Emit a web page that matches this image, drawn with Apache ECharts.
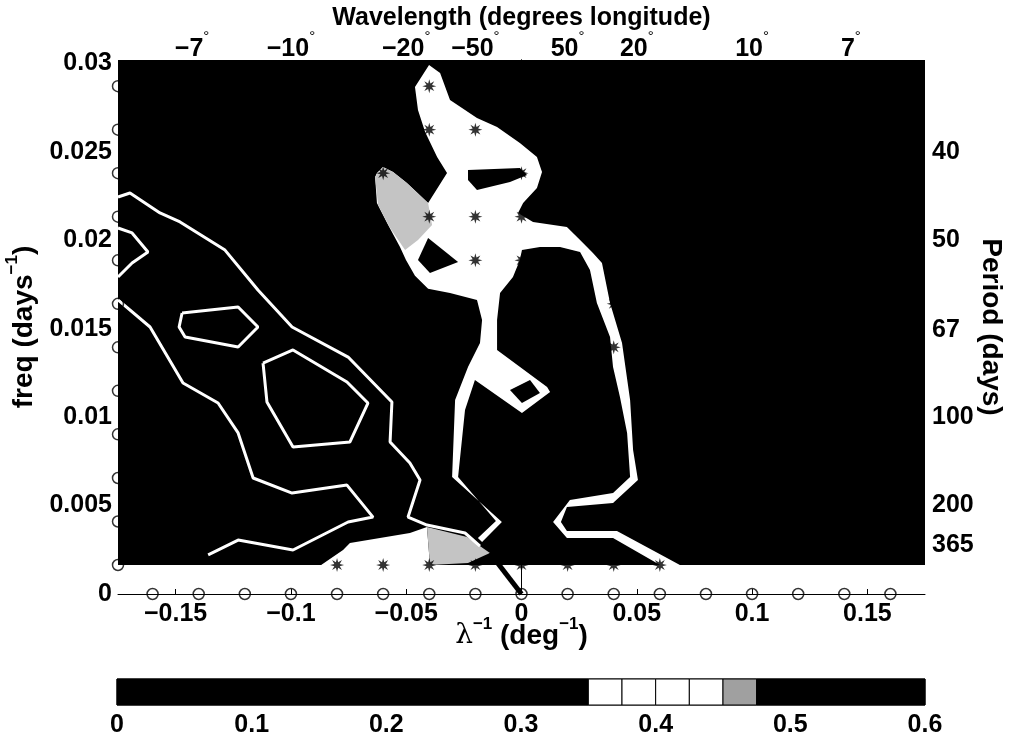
<!DOCTYPE html>
<html><head><meta charset="utf-8">
<script src="https://cdn.jsdelivr.net/npm/echarts@6/dist/echarts.min.js"></script>
<style>html,body{margin:0;padding:0;background:#fff}#c{width:1013px;height:738px}</style>
</head><body><div id="c"></div>
<script>
// ---------------- data ----------------
const xTicks = [-0.15, -0.1, -0.05, 0, 0.05, 0.1, 0.15];
const yTicks = [0, 0.005, 0.01, 0.015, 0.02, 0.025, 0.03];
const wavelengths = [-7, -10, -20, -50, 50, 20, 10, 7];
const periods = [40, 50, 67, 100, 200, 365];
const gridK = [-0.16,-0.14,-0.12,-0.1,-0.08,-0.06,-0.04,-0.02,0,0.02,0.04,0.06,0.08,0.1,0.12,0.14,0.16];
const gridF = [0.00164,0.00410,0.00656,0.00903,0.01149,0.01395,0.01641,0.01887,0.02134,0.02380,0.02626,0.02872];
const kRange = [-0.175, 0.175];
const fMax = 0.0302;

// white region (values 0.35-0.45), [k, f]
const whiteRegions = [
 [
 [-0.0401,0.02992],[-0.0462,0.02867],[-0.0449,0.02737],[-0.0418,0.02613],[-0.0366,0.02471],[-0.0323,0.02381],
 [-0.0405,0.02211],[-0.0497,0.02324],[-0.0557,0.02387],[-0.0601,0.02415],[-0.0627,0.02381],[-0.0635,0.02358],
 [-0.0627,0.02211],[-0.0583,0.02098],[-0.0527,0.01962],[-0.0501,0.01889],[-0.0462,0.01800],[-0.0405,0.01727],
 [-0.0310,0.01702],[-0.0193,0.01663],[-0.0171,0.01550],[-0.0180,0.01420],[-0.0232,0.01284],[-0.0288,0.01097],
 [-0.0301,0.00662],[-0.0085,0.00407],[-0.0171,0.00294],[-0.0189,0.00317],[-0.0111,0.00413],[-0.0275,0.00662],
 [-0.0245,0.01041],[-0.0202,0.01210],[0.0002,0.01024],[0.0124,0.01142],[0.0111,0.01171],[-0.0106,0.01380],
 [-0.0106,0.01550],[-0.0093,0.01702],[-0.0037,0.01793],[-0.0007,0.01889],[0.0002,0.01945],[0.0080,0.01962],
 [0.0167,0.01962],[0.0254,0.01934],[0.0297,0.01832],[0.0327,0.01646],[0.0384,0.01453],[0.0397,0.01284],
 [0.0427,0.01114],[0.0458,0.00911],[0.0471,0.00662],[0.0397,0.00571],[0.0210,0.00532],[0.0137,0.00407],
 [0.0197,0.00317],[0.0397,0.00317],[0.0601,0.00164],[0.0687,0.00164],[0.0631,0.00204],[0.0414,0.00356],
 [0.0197,0.00356],[0.0171,0.00407],[0.0197,0.00492],[0.0397,0.00515],[0.0505,0.00645],[0.0484,0.00814],
 [0.0471,0.01097],[0.0436,0.01420],[0.0384,0.01646],[0.0349,0.01872],[0.0310,0.01929],[0.0254,0.02002],
 [0.0197,0.02076],[0.0050,0.02104],[-0.0015,0.02155],[0.0007,0.02211],[0.0067,0.02296],[0.0089,0.02387],
 [0.0067,0.02471],[-0.0007,0.02551],[-0.0106,0.02641],[-0.0193,0.02692],[-0.0310,0.02794],[-0.0353,0.02946]
 ],
 [[-0.0869,0.00164],[-0.0774,0.00249],[-0.0744,0.00288],[-0.0484,0.00345],[-0.0410,0.00379],[-0.0397,0.00164]]
];
// holes inside the white region
const holes = [
 [[-0.0232,0.02398],[-0.0007,0.02409],[0.0024,0.02370],[-0.0050,0.02330],[-0.0193,0.02285],[-0.0232,0.02341]],
 [[-0.0405,0.02013],[-0.0275,0.01878],[-0.0397,0.01815],[-0.0449,0.01889]],
 [[-0.0050,0.01154],[0.0037,0.01210],[0.0080,0.01137],[0.0002,0.01080]]
];
// grey region (values 0.45-0.475)
const greyRegions = [
 [[-0.0635,0.02358],[-0.0601,0.02415],[-0.0557,0.02387],[-0.0497,0.02324],[-0.0405,0.02211],[-0.0388,0.02087],
  [-0.0449,0.02002],[-0.0505,0.01945],[-0.0570,0.02070],[-0.0622,0.02200]],
 [[-0.0410,0.00379],[-0.0236,0.00322],[-0.0137,0.00232],[-0.0232,0.00175],[-0.0397,0.00164]]
];
// white contour lines
const contours = [
 [[-0.1750,0.02245],[-0.1698,0.02268],[-0.1568,0.02155],[-0.1481,0.02104],[-0.1286,0.01945],[-0.1143,0.01719],
  [-0.0995,0.01510],[-0.0752,0.01340],[-0.0562,0.01086],[-0.0570,0.00860],[-0.0484,0.00741],[-0.0440,0.00645],
  [-0.0492,0.00435],[-0.0410,0.00390],[-0.0245,0.00345],[-0.0180,0.00271]],
 [[-0.1750,0.01663],[-0.1611,0.01510],[-0.1468,0.01193],[-0.1316,0.01080],[-0.1229,0.00911],[-0.1164,0.00656],
  [-0.0995,0.00571],[-0.0757,0.00616],[-0.0644,0.00435],[-0.0752,0.00407],[-0.0991,0.00249],[-0.1229,0.00305],
  [-0.1359,0.00221]],
 [[-0.1472,0.01589],[-0.1229,0.01623],[-0.1143,0.01510],[-0.1229,0.01397],[-0.1459,0.01453],[-0.1485,0.01510],[-0.1472,0.01589]],
 [[-0.1121,0.01306],[-0.0991,0.01380],[-0.0757,0.01199],[-0.0666,0.01080],[-0.0744,0.00860],[-0.0991,0.00831],[-0.1104,0.01086],[-0.1121,0.01306]],
 [[-0.1750,0.02070],[-0.1689,0.02042],[-0.1620,0.01934],[-0.1689,0.01872],[-0.1750,0.01793]]
];
const blackLine = [[-0.0137,0.00232],[0,0]];
const stars = [
 [-0.08,0.00164],[-0.06,0.00164],[-0.04,0.00164],[-0.02,0.00164],[0,0.00164],[0.02,0.00164],[0.04,0.00164],[0.06,0.00164],
 [-0.04,0.02872],[-0.04,0.02626],[-0.02,0.02626],[-0.04,0.02134],[-0.02,0.02134],[-0.02,0.01887],
 [0,0.02380],[0,0.02134],[0,0.01887],[0.04,0.01641],[0.04,0.01395],[-0.06,0.02380]
];
// colorbar
const cbLevels = [0, 0.35, 0.375, 0.4, 0.425, 0.45, 0.475, 0.6];
const cbColors = ['#000', '#fff', '#fff', '#fff', '#fff', '#a0a0a0', '#000'];
const cbTicks = [0, 0.1, 0.2, 0.3, 0.4, 0.5, 0.6];

// ---------------- drawing ----------------
const FONT = "'Liberation Sans', Arial, Helvetica, sans-serif";
const FS = 25;
const NFS = 28;
function starPath(n, rIn) {
  let d = '';
  for (let i = 0; i < 2 * n; i++) {
    const a = Math.PI * i / n - Math.PI / 2;
    const r = (i % 2 === 0) ? 50 : 50 * rIn;
    d += (i === 0 ? 'M' : 'L') + (50 + r * Math.cos(a)).toFixed(2) + ' ' + (50 + r * Math.sin(a)).toFixed(2) + ' ';
  }
  return 'path://' + d + 'Z';
}
function polySeries(polys, color, z) {
  return {
    type: 'custom', xAxisIndex: 0, yAxisIndex: 0, z, silent: true, clip: true,
    data: polys.map(p => p[0]),
    renderItem: (params, api) => ({
      type: 'polygon',
      shape: { points: polys[params.dataIndex].map(pt => api.coord(pt)) },
      style: { fill: color }
    })
  };
}
const bgRect = [[kRange[0], gridF[0]], [kRange[1], gridF[0]], [kRange[1], fMax], [kRange[0], fMax]];
const circlesLeft = gridF.map(f => [kRange[0], f]);
const circlesBottom = gridK.map(k => [k, 0]);

const labelStyle = { fontFamily: FONT, fontSize: FS, fontWeight: 'bold', color: '#000' };
const supRich = {
  b: { fontFamily: FONT, fontSize: NFS, fontWeight: 'bold', color: '#000', lineHeight: 34, verticalAlign: 'bottom' },
  l: { fontFamily: "'DejaVu Serif', 'Liberation Serif', serif", fontSize: NFS, color: '#000', lineHeight: 34, verticalAlign: 'bottom' },
  s: { fontFamily: FONT, fontSize: 17, fontWeight: 'bold', color: '#000', verticalAlign: 'top' }
};

const series = [
  polySeries([bgRect], '#000', 1),
  polySeries(whiteRegions, '#fff', 2),
  polySeries(greyRegions, '#c4c4c4', 3),
  polySeries(holes, '#000', 3),
];
contours.forEach(c => series.push({
  type: 'line', data: c, xAxisIndex: 0, yAxisIndex: 0, symbol: 'none', silent: true, z: 4,
  lineStyle: { color: '#fff', width: 3 }
}));
series.push({
  type: 'line', data: blackLine, symbol: 'none', silent: true, z: 5, clip: false,
  lineStyle: { color: '#000', width: 5 }
});
series.push({
  type: 'scatter', data: stars, symbol: starPath(8, 0.42), symbolSize: 14, silent: true, z: 6, clip: false,
  itemStyle: { color: '#000' }
});
series.push({
  type: 'scatter', data: circlesLeft.concat(circlesBottom), symbol: 'circle', symbolSize: 11, silent: true, z: 7, clip: false,
  itemStyle: { color: 'rgba(0,0,0,0)', borderColor: '#000', borderWidth: 1.5 }
});
series.push({
  type: 'custom', xAxisIndex: 2, yAxisIndex: 2, silent: true, z: 2,
  data: cbColors.map((c, i) => [cbLevels[i], 0]),
  renderItem: (params, api) => {
    const i = params.dataIndex;
    const p0 = api.coord([cbLevels[i], 0]);
    const p1 = api.coord([cbLevels[i + 1], 1]);
    return {
      type: 'rect',
      shape: { x: p0[0], y: p1[1], width: p1[0] - p0[0], height: p0[1] - p1[1] },
      style: { fill: cbColors[i], stroke: '#000', lineWidth: 1 }
    };
  }
});

const option = {
  animation: false,
  backgroundColor: '#fff',
  grid: [
    { left: 118, right: 88, top: 60, bottom: 144, outerBoundsMode: 'none', containLabel: false },
    { left: 117, right: 88, top: 679, height: 26, show: true, borderColor: '#000', borderWidth: 1, outerBoundsMode: 'none', containLabel: false }
  ],
  xAxis: [
    {
      type: 'value', gridIndex: 0, position: 'bottom', min: kRange[0], max: kRange[1],
      axisLine: { show: true, lineStyle: { color: '#000', width: 1 } },
      axisTick: { show: true, inside: true, length: 5, customValues: xTicks, lineStyle: { color: '#000' } },
      axisLabel: Object.assign({ customValues: xTicks, margin: 8,
        formatter: v => (v < 0 ? '\u2212' : '') + String(+Math.abs(v).toFixed(2)) }, labelStyle),
      splitLine: { show: false },
      name: '{l|\u03bb}{s|\u22121}{b| (deg}{s|\u22121}{b|)}', nameLocation: 'middle', nameGap: 22, nameMoveOverlap: false,
      nameTextStyle: { rich: supRich }
    },
    {
      type: 'value', gridIndex: 0, position: 'top', min: kRange[0], max: kRange[1],
      axisLine: { show: false }, axisTick: { show: false }, splitLine: { show: false },
      axisLabel: {
        customValues: wavelengths.map(w => 1 / w), margin: -2,
        formatter: v => '{v|' + String(Math.round(1 / v)).replace('-', '\u2212') + '}{d|\u00b0}',
        rich: {
          v: { fontFamily: FONT, fontSize: FS, fontWeight: 'bold', color: '#000', lineHeight: 26, verticalAlign: 'bottom' },
          d: { fontFamily: FONT, fontSize: 15, color: '#000', verticalAlign: 'top', padding: [0, 0, 18, 0] }
        }
      },
      name: 'Wavelength (degrees longitude)', nameLocation: 'middle', nameGap: 29, nameMoveOverlap: false,
      nameTextStyle: { fontFamily: FONT, fontSize: 25, fontWeight: 'bold', color: '#000' }
    },
    {
      type: 'value', gridIndex: 1, min: 0, max: 0.6, interval: 0.1,
      axisLine: { show: false }, axisTick: { show: false }, splitLine: { show: false },
      axisLabel: Object.assign({ margin: 8, formatter: v => String(+v.toFixed(1)) }, labelStyle)
    }
  ],
  yAxis: [
    {
      type: 'value', gridIndex: 0, position: 'left', min: 0, max: fMax,
      axisLine: { show: true, lineStyle: { color: '#000', width: 1 } },
      axisTick: { show: false }, splitLine: { show: false },
      axisLabel: Object.assign({ customValues: yTicks, margin: 6,
        formatter: v => String(+v.toFixed(3)) }, labelStyle),
      name: '{b|freq (days}{s|\u22121}{b|)}', nameLocation: 'middle', nameRotate: 90, nameGap: 80, nameMoveOverlap: false,
      nameTextStyle: { rich: supRich }
    },
    {
      type: 'value', gridIndex: 0, position: 'right', min: 0, max: fMax,
      axisLine: { show: true, lineStyle: { color: '#000', width: 1 } },
      axisTick: { show: false }, splitLine: { show: false },
      axisLabel: Object.assign({ customValues: periods.map(p => 1 / p), margin: 7,
        formatter: v => String(Math.round(1 / v)) }, labelStyle),
      name: 'Period (days)', nameLocation: 'middle', nameRotate: -90, nameGap: 52, nameMoveOverlap: false,
      nameTextStyle: { fontFamily: FONT, fontSize: NFS, fontWeight: 'bold', color: '#000' }
    },
    {
      type: 'value', gridIndex: 1, min: 0, max: 1, show: false
    }
  ],
  series
};
const chart = echarts.init(document.getElementById('c'), null, { renderer: 'canvas' });
chart.setOption(option);
</script>
</body></html>
